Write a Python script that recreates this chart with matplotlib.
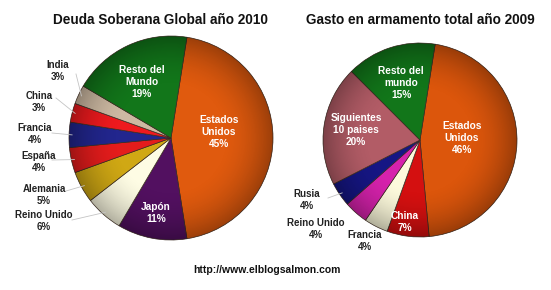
import matplotlib
matplotlib.use("Agg")
import matplotlib.pyplot as plt
from matplotlib.patches import Circle
import numpy as np

plt.rcParams['font.family'] = ['Liberation Sans', 'DejaVu Sans']

# ---- datos : deuda soberana 2010 ----
deuda_paises = ['Estados\nUnidos', 'Japón', 'Reino Unido', 'Alemania', 'España',
                'Francia', 'China', 'India', 'Resto del\nMundo']
deuda_pct = [45, 11, 6, 5, 4, 4, 3, 3, 19]
deuda_colores = ['#e05a0e', '#521060', '#fefce4', '#d0a814', '#e41c1c',
                 '#22268e', '#ee1a1e', '#cdb9a2', '#12761a']
deuda_dentro = [True, True, False, False, False, False, False, False, True]

# ---- datos : gasto en armamento 2009 ----
arma_paises = ['Estados\nUnidos', 'China', 'Francia', 'Reino Unido', 'Rusia',
               'Siguientes\n10 paises', 'Resto del\nmundo']
arma_pct = [46, 7, 4, 4, 4, 20, 15]
arma_colores = ['#dc560c', '#d41010', '#fdfadc', '#d622ac', '#161684',
                '#b25c66', '#12761a']
arma_dentro = [True, True, False, False, False, True, True]

fig = plt.figure(figsize=(5.51, 2.90), dpi=100)
ax = fig.add_axes([0, 0, 1, 1])
H = 290


def tarta(pct, colores, centro, radio, inicio):
    cx, cy = centro[0], H - centro[1]
    wedges, _ = ax.pie(pct, colors=colores, startangle=inicio, counterclock=False,
                       center=(cx, cy), radius=radio,
                       wedgeprops=dict(edgecolor='#3a2a20', linewidth=0.5))
    # sombreado radial (bordes mas oscuros)
    n = 200
    g = np.linspace(-1, 1, n)
    xx, yy = np.meshgrid(g, g)
    r = np.sqrt(xx**2 + yy**2)
    alfa = np.clip((r - 0.5) / 0.5, 0, 1) ** 1.8 * 0.3
    img = np.zeros((n, n, 4))
    img[..., 3] = alfa
    im = ax.imshow(img, extent=(cx - radio, cx + radio, cy - radio, cy + radio),
                   origin='lower', zorder=3, interpolation='bilinear')
    im.set_clip_path(Circle((cx, cy), radio, transform=ax.transData))
    return wedges


def etiqueta(texto, x, y, color, size=7.3):
    ax.text(x, H - y, texto, ha='center', va='center', color=color,
            fontsize=size, fontweight='bold', linespacing=1.2, zorder=5)


def linea(w, frac, x, y):
    # linea gris desde el borde de la porcion hasta la etiqueta
    ang = np.deg2rad((w.theta1 + w.theta2) / 2)
    cx, cy = w.center
    px = cx + w.r * frac * np.cos(ang)
    py = cy + w.r * frac * np.sin(ang)
    ax.plot([x, px], [H - y, py], color='#c4c4c4', linewidth=0.6, zorder=4)


# ---- tarta izquierda ----
w1 = tarta(deuda_pct, deuda_colores, (171, 138), 102, 81)
pos1 = {0: (219, 132), 1: (156, 213), 8: (142, 82),
        2: (44, 221), 3: (44, 195), 4: (39, 162), 5: (35, 134),
        6: (39, 102), 7: (58, 71)}
lin1 = {2: (72, 220), 3: (66, 191), 4: (52, 160), 5: (52, 133),
        6: (56, 98), 7: (76, 74)}
for i, nombre in enumerate(deuda_paises):
    x, y = pos1[i]
    txt = f'{nombre}\n{deuda_pct[i]}%'
    if deuda_dentro[i]:
        etiqueta(txt, x, y, 'white')
    else:
        etiqueta(txt, x, y, '#222222', 7)
        linea(w1[i], 0.97, *lin1[i])

# ---- tarta derecha ----
w2 = tarta(arma_pct, arma_colores, (420, 140), 97, 81)
pos2 = {0: (462, 138), 1: (405, 222), 2: (365, 241), 3: (316, 229),
        4: (307, 200), 5: (356, 130), 6: (401, 83)}
lin2 = {4: (328, 198)}
for i, nombre in enumerate(arma_paises):
    x, y = pos2[i]
    txt = f'{nombre}\n{arma_pct[i]}%'
    if arma_dentro[i]:
        etiqueta(txt, x, y, 'white')
    else:
        etiqueta(txt, x, y, '#222222', 7)
        if i in lin2:
            linea(w2[i], 0.97, *lin2[i])

# ---- titulos ----
ax.text(160, H - 20, 'Deuda Soberana Global año 2010', ha='center', va='center',
        fontsize=9.8, fontweight='bold', color='#111111')
ax.text(420, H - 20, 'Gasto en armamento total año 2009', ha='center', va='center',
        fontsize=9.8, fontweight='bold', color='#111111')
ax.text(267, H - 270, 'http://www.elblogsalmon.com', ha='center', va='center',
        fontsize=7.5, fontweight='bold', color='#111111')

ax.set_xlim(0, 551)
ax.set_ylim(0, 290)
ax.set_aspect('equal')
ax.axis('off')

fig.savefig('out.png', dpi=100, facecolor='white')
